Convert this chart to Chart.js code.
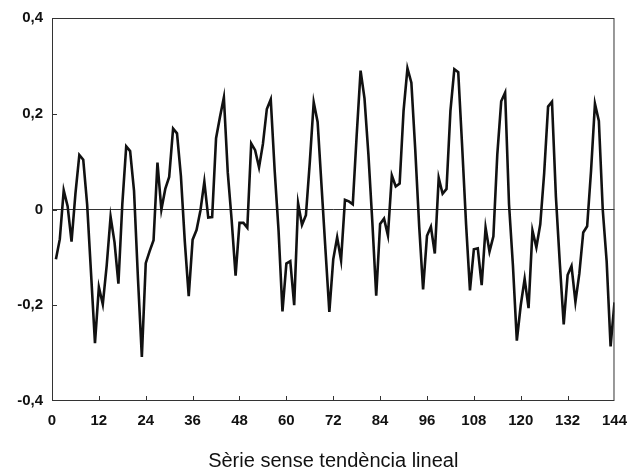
<!DOCTYPE html>
<html>
<head>
<meta charset="utf-8">
<script src="https://cdn.jsdelivr.net/npm/chart.js@4.4.1/dist/chart.umd.min.js"></script>
<style>
  html, body { margin: 0; padding: 0; background: #fff; }
  #wrap { width: 638px; height: 473px; }
</style>
</head>
<body>
<div id="wrap"><canvas id="grafic" width="638" height="473"></canvas></div>
<script>
// serie mensual sense tendencia lineal, mesos 1..144
var serie = [
  -0.104, -0.062, 0.040, 0.007, -0.067, 0.033, 0.114, 0.104, 0.010, -0.134, -0.279, -0.162,
  -0.198, -0.117, -0.015, -0.068, -0.155, 0.011, 0.132, 0.122, 0.039, -0.143, -0.308, -0.112,
  -0.087, -0.064, 0.098, 0.000, 0.043, 0.068, 0.169, 0.159, 0.070, -0.067, -0.181, -0.063,
  -0.043, -0.002, 0.058, -0.017, -0.016, 0.149, 0.193, 0.234, 0.077, -0.023, -0.138, -0.028,
  -0.028, -0.038, 0.138, 0.124, 0.088, 0.137, 0.210, 0.230, 0.082, -0.044, -0.213, -0.113,
  -0.108, -0.200, 0.013, -0.032, -0.012, 0.099, 0.224, 0.183, 0.050, -0.083, -0.214, -0.104,
  -0.058, -0.106, 0.020, 0.017, 0.011, 0.155, 0.290, 0.232, 0.115, -0.025, -0.180, -0.030,
  -0.019, -0.054, 0.071, 0.048, 0.054, 0.206, 0.295, 0.265, 0.124, -0.035, -0.167, -0.055,
  -0.036, -0.092, 0.066, 0.033, 0.043, 0.206, 0.293, 0.287, 0.132, -0.030, -0.169, -0.083,
  -0.081, -0.158, -0.038, -0.088, -0.056, 0.115, 0.226, 0.244, 0.011, -0.117, -0.274, -0.200,
  -0.145, -0.206, -0.044, -0.079, -0.031, 0.076, 0.215, 0.225, 0.027, -0.112, -0.240, -0.137,
  -0.118, -0.193, -0.134, -0.048, -0.035, 0.081, 0.221, 0.185, -0.001, -0.109, -0.286, -0.194
];
var xTicks = [0, 12, 24, 36, 48, 60, 72, 84, 96, 108, 120, 132, 144];
var yTicks = [-0.4, -0.2, 0, 0.2, 0.4];
var titol = 'Sèrie sense tendència lineal';

var punts = [];
for (var i = 0; i < serie.length; i++) {
  punts.push({ x: i + 1, y: serie[i] });
}

function fmt(v) {
  if (Math.abs(v) < 1e-9) return '0';
  return v.toFixed(1).replace('.', ',');
}

// marc i marques de divisio cap endins
var marc = {
  id: 'marc',
  afterDraw: function (chart) {
    var ctx = chart.ctx;
    var a = chart.chartArea;
    var sx = chart.scales.x;
    var sy = chart.scales.y;
    ctx.save();
    ctx.strokeStyle = '#333';
    ctx.lineWidth = 1;
    ctx.strokeRect(a.left + 0.5, a.top + 0.5, a.right - a.left - 1, a.bottom - a.top - 1);
    ctx.beginPath();
    for (var i = 1; i < xTicks.length - 1; i++) {
      var px = Math.round(sx.getPixelForValue(xTicks[i])) + 0.5;
      ctx.moveTo(px, a.bottom);
      ctx.lineTo(px, a.bottom - 5);
    }
    for (var j = 1; j < yTicks.length - 1; j++) {
      var py = Math.round(sy.getPixelForValue(yTicks[j])) + 0.5;
      ctx.moveTo(a.left, py);
      ctx.lineTo(a.left + 5, py);
    }
    ctx.stroke();
    ctx.restore();
  }
};

var fons = {
  id: 'fons',
  beforeDraw: function (chart) {
    var ctx = chart.ctx;
    ctx.save();
    ctx.fillStyle = '#fff';
    ctx.fillRect(0, 0, chart.width, chart.height);
    ctx.restore();
  }
};

var tickFont = { family: '"Liberation Sans", Arial, sans-serif', size: 15, weight: 'bold' };

new Chart(document.getElementById('grafic').getContext('2d'), {
  type: 'line',
  data: {
    datasets: [{
      data: punts,
      borderColor: '#111',
      borderWidth: 2.6,
      pointRadius: 0,
      tension: 0,
      fill: false
    }]
  },
  options: {
    responsive: false,
    animation: false,
    layout: { padding: { top: 15, right: 13, left: 0, bottom: 0 } },
    plugins: {
      legend: { display: false },
      tooltip: { enabled: false }
    },
    scales: {
      x: {
        type: 'linear',
        min: 0,
        max: 144,
        afterBuildTicks: function (scale) {
          scale.ticks = xTicks.map(function (v) { return { value: v }; });
        },
        afterFit: function (scale) { scale.height = 72; },
        grid: { display: false, drawTicks: false },
        border: { display: false },
        ticks: { color: '#111', font: tickFont, padding: 11, maxRotation: 0, autoSkip: false },
        title: {
          display: true,
          text: titol,
          color: '#111',
          font: { family: '"Liberation Sans", Arial, sans-serif', size: 20 },
          padding: { top: 4, bottom: 0 }
        }
      },
      y: {
        min: -0.4,
        max: 0.4,
        afterBuildTicks: function (scale) {
          scale.ticks = yTicks.map(function (v) { return { value: v }; });
        },
        afterFit: function (scale) { scale.width = 52; },
        grid: {
          drawTicks: false,
          lineWidth: 1,
          color: function (c) {
            return (c.tick && Math.abs(c.tick.value) < 1e-9) ? '#333' : 'rgba(0,0,0,0)';
          }
        },
        border: { display: false },
        ticks: {
          color: '#111',
          font: tickFont,
          padding: 9,
          callback: function (v) { return fmt(v); }
        }
      }
    }
  },
  plugins: [fons, marc]
});
</script>
</body>
</html>
